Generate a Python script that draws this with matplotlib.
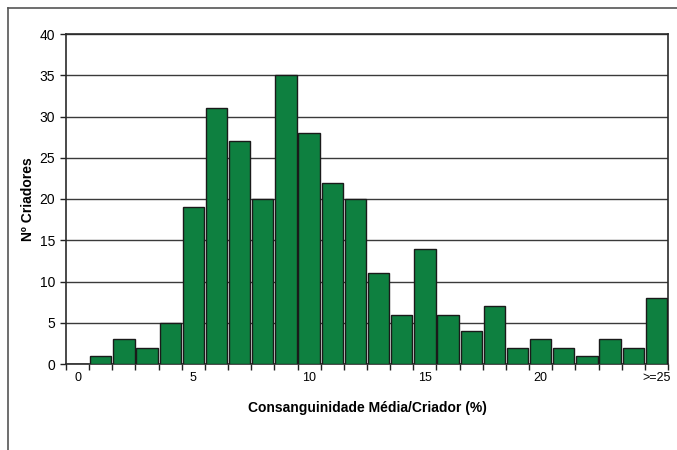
import numpy as np
import matplotlib
matplotlib.use("Agg")
import matplotlib.pyplot as plt
from matplotlib.lines import Line2D

# Consanguinidade classes (0..24 and >=25) and number of breeders in each
classes = list(range(26))
n_criadores = [0, 1, 3, 2, 5, 19, 31, 27, 20, 35, 28, 22, 20, 11, 6, 14, 6, 4, 7, 2, 3, 2, 1, 3, 2, 8]
tick_labels = ["0", "5", "10", "15", "20", ">=25"]
label_pos = [0, 5, 10, 15, 20, 25]

plt.rcParams["font.family"] = ["Liberation Sans", "DejaVu Sans"]

W, H = 677, 450
fig = plt.figure(figsize=(W / 100, H / 100), dpi=100)
ax = fig.add_axes([66 / W, 1 - 364 / H, (668 - 66) / W, (364 - 34) / H])

x = np.array(classes)
ax.bar(x, n_criadores, width=0.92, color="#0e8040", edgecolor="#1a1a1a", linewidth=1.0, zorder=3)

ax.set_xlim(-0.5, 25.5)
ax.set_ylim(0, 40)
ax.set_yticks(range(0, 41, 5))
ax.yaxis.grid(True, color="#3a3a3a", linewidth=1.0, zorder=0)
ax.set_axisbelow(True)

# ticks at category boundaries, labels at every fifth category
ax.set_xticks(np.arange(-0.5, 26, 1))
ax.set_xticklabels([])
ax.set_xticks(label_pos, minor=True)
ax.set_xticklabels(tick_labels, minor=True)
ax.tick_params(axis="x", which="major", direction="out", length=4, width=1, color="#222222")
ax.tick_params(axis="x", which="minor", length=0, pad=6, labelsize=9)
ax.tick_params(axis="y", direction="out", length=4, width=1, color="#222222", labelsize=10, pad=4)

for s in ax.spines.values():
    s.set_color("#2a2a2a")
    s.set_linewidth(1.2)

ax.set_ylabel("Nº Criadores", fontsize=10, fontweight="bold", labelpad=3)
ax.set_xlabel("Consanguinidade Média/Criador (%)", fontsize=10, fontweight="bold", labelpad=12)

# outer chart frame (cut off at right and bottom)
fig.add_artist(Line2D([8 / W, 1.0], [1 - 8 / H, 1 - 8 / H], color="#555555", linewidth=1.2))
fig.add_artist(Line2D([8 / W, 8 / W], [0.0, 1 - 8 / H], color="#555555", linewidth=1.2))

fig.savefig("out.png", dpi=100)
